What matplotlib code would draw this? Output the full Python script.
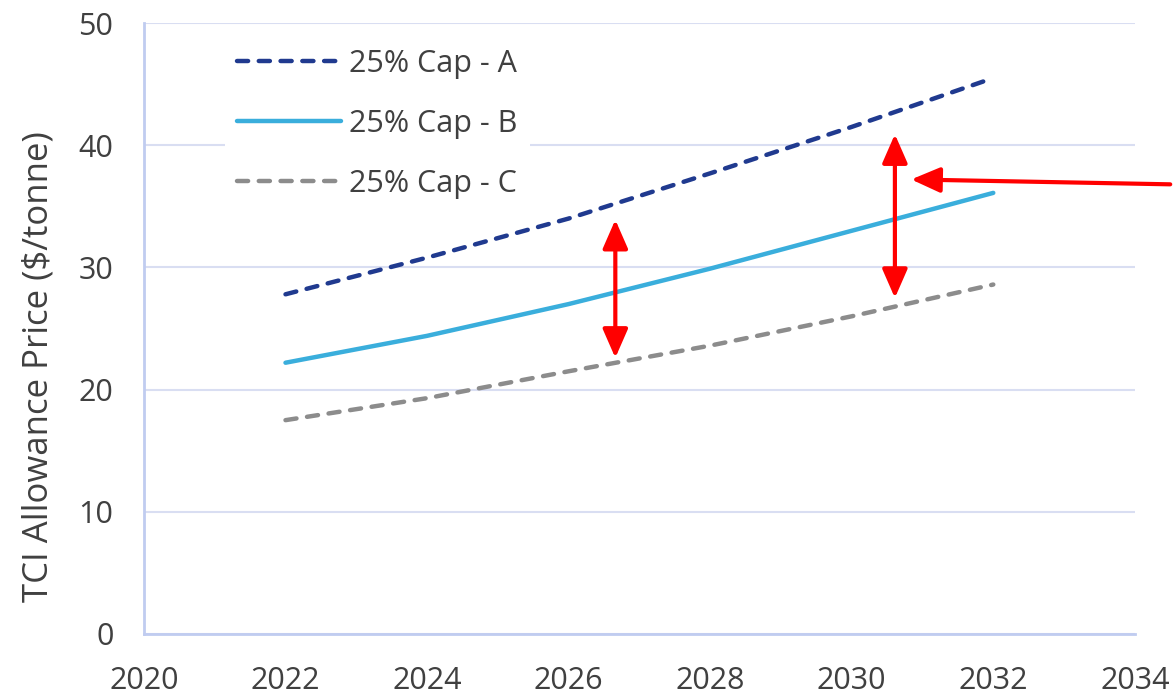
import numpy as np
import matplotlib
matplotlib.use("Agg")
import matplotlib.pyplot as plt

years = [2022, 2024, 2026, 2028, 2030, 2032]
cap_a = [27.8, 30.8, 34.0, 37.7, 41.5, 45.5]
cap_b = [22.2, 24.4, 27.0, 29.9, 33.0, 36.1]
cap_c = [17.5, 19.3, 21.5, 23.6, 26.0, 28.6]
labels = ["25% Cap - A", "25% Cap - B", "25% Cap - C"]

# red arrows (data coords)
gap_arrows = [(2026.66, 33.9, 22.6), (2030.61, 40.9, 27.5)]
pointer_tail = (2034.5, 36.8)
pointer_head = (2030.84, 37.2)

plt.rcParams['font.family'] = ['Open Sans', 'DejaVu Sans']

fig = plt.figure(figsize=(11.76, 6.98), dpi=100)
ax = fig.add_axes([0.1224, 0.0917, 0.8426, 0.8753])

ax.plot(years, cap_a, color='#203A8F', lw=3.2, dashes=(2.5, 2.4),
        dash_capstyle='round', label=labels[0])
ax.plot(years, cap_b, color='#3AAEDC', lw=3.2, solid_capstyle='round',
        label=labels[1])
ax.plot(years, cap_c, color='#8C8C8C', lw=3.2, dashes=(2.5, 2.4),
        dash_capstyle='round', label=labels[2])

ax.set_xlim(2020, 2034)
ax.set_ylim(0, 50)
ax.set_xticks(np.arange(2020, 2035, 2))
ax.set_yticks(np.arange(0, 51, 10))
ax.grid(axis='y', color='#D9DEF2', lw=1.5)
ax.set_axisbelow(True)
ax.tick_params(length=0, labelsize=22, colors='#404040')
ax.tick_params(axis='x', pad=23)
ax.tick_params(axis='y', pad=22)
for s in ['top', 'right']:
    ax.spines[s].set_visible(False)
for s in ['left', 'bottom']:
    ax.spines[s].set_color('#C0CCF0')
    ax.spines[s].set_linewidth(2)
ax.set_ylabel('TCI Allowance Price ($/tonne)', fontsize=25, color='#404040')
ax.yaxis.set_label_coords(-0.089, 0.437)

leg = ax.legend(loc='upper left', bbox_to_anchor=(0.082, 0.978),
                borderaxespad=0, frameon=True, fontsize=22,
                handlelength=3.4, labelspacing=0.98,
                handletextpad=0.25, borderpad=0.4)
leg.get_frame().set_facecolor('white')
leg.get_frame().set_edgecolor('none')
leg.get_frame().set_alpha(1)
for t in leg.get_texts():
    t.set_color('#404040')

head = '<|-|>,head_length=0.8,head_width=0.35'
for x, y1, y2 in gap_arrows:
    ax.annotate('', xy=(x, y2), xytext=(x, y1),
                arrowprops=dict(arrowstyle=head, color='#FF0000', lw=3,
                                mutation_scale=22, shrinkA=0, shrinkB=0))
ax.annotate('', xy=pointer_head, xytext=pointer_tail, annotation_clip=False,
            arrowprops=dict(arrowstyle='-|>,head_length=0.8,head_width=0.35',
                            color='#FF0000', lw=3,
                            mutation_scale=22, shrinkA=0, shrinkB=0))

fig.savefig('out.png', dpi=100)
